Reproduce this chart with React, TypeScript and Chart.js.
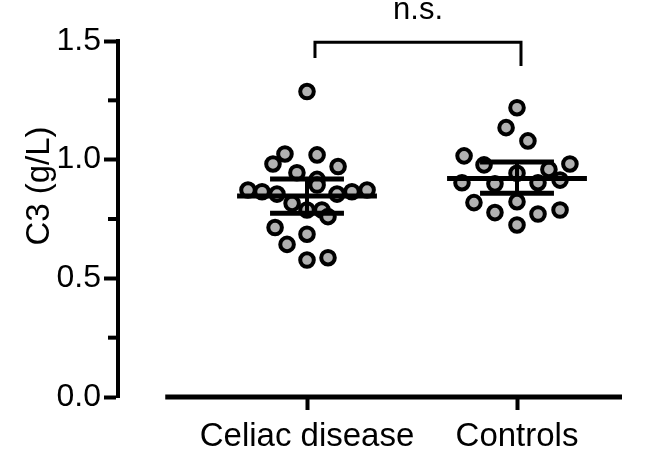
import React, { useEffect, useRef } from 'react';
import { Chart, registerables } from 'chart.js';

Chart.register(...registerables);

// ---------- data ----------
const categories = ['Celiac disease', 'Controls'];
const categoryPositions = [1, 2];

const celiacValues = [1.287, 1.024, 0.982, 1.02, 0.945, 0.971, 0.917, 0.893, 0.872, 0.865, 0.855, 0.855, 0.865, 0.872, 0.816, 0.788, 0.788, 0.76, 0.714, 0.686, 0.643, 0.577, 0.587];
const celiacJitter = [0, -0.105, -0.162, 0.048, -0.048, 0.148, 0.048, 0.048, -0.281, -0.214, -0.143, 0.143, 0.214, 0.286, -0.071, 0, 0.071, 0.1, -0.152, 0, -0.095, 0, 0.1];

const controlValues = [1.219, 1.135, 1.079, 1.016, 0.978, 0.982, 0.943, 0.959, 0.914, 0.903, 0.898, 0.903, 0.819, 0.823, 0.777, 0.771, 0.788, 0.725];
const controlJitter = [0, -0.052, 0.052, -0.252, -0.157, 0.252, 0, 0.152, 0.205, -0.262, -0.105, 0.1, -0.205, 0, -0.105, 0.1, 0.205, 0];

const groupMeans = [0.847, 0.921];
const groupLower = [0.774, 0.858];
const groupUpper = [0.919, 0.99];

const yMin = 0;
const yMax = 1.5;
const yStep = 0.25;
const yMajorStep = 0.5;
const yTitle = 'C3 (g/L)';

const sigLabel = 'n.s.';
const bracketX = [1.038, 2.019];
const bracketTop = 1.495;
const bracketLegEnds = [1.428, 1.395];
const sigLabelPos = { x: 1.529, y: 1.593 };

// ---------- styling ----------
const FONT = "Arial, 'Liberation Sans', Helvetica, sans-serif";
const MEAN_HALF = 0.333;
const CAP_HALF = 0.176;

const isMajor = (v: number) => Math.abs(v / yMajorStep - Math.round(v / yMajorStep)) < 1e-6;

function lineDs(points: { x: number; y: number }[], width: number) {
  return {
    type: 'scatter' as const,
    data: points,
    showLine: true,
    borderColor: '#000',
    backgroundColor: '#000',
    borderWidth: width,
    pointRadius: 0,
    pointHoverRadius: 0,
    borderCapStyle: 'butt' as const,
    clip: false as any,
    order: 0,
  };
}

function pointDs(values: number[], jitter: number[], center: number) {
  return {
    type: 'scatter' as const,
    data: values.map((v, i) => ({ x: center + jitter[i], y: v })),
    backgroundColor: '#b1b1b1',
    borderColor: '#000',
    borderWidth: 4,
    pointRadius: 6.8,
    pointHoverRadius: 6.8,
    clip: false as any,
    order: 1,
  };
}

const decorPlugin = {
  id: 'decor',
  afterDraw(chart: any) {
    const { ctx, chartArea } = chart;
    const xs = chart.scales.x;
    const ys = chart.scales.y;
    ctx.save();
    ctx.strokeStyle = '#000';
    ctx.fillStyle = '#000';
    // x axis line (offset from y axis)
    ctx.lineWidth = 5;
    ctx.beginPath();
    ctx.moveTo(xs.getPixelForValue(0.325), chartArea.bottom);
    ctx.lineTo(chartArea.right, chartArea.bottom);
    ctx.stroke();
    // minor y ticks
    ctx.lineWidth = 4;
    for (let v = yMin; v <= yMax + 1e-9; v += yStep) {
      if (isMajor(v)) continue;
      const py = ys.getPixelForValue(v);
      ctx.beginPath();
      ctx.moveTo(chartArea.left - 10, py);
      ctx.lineTo(chartArea.left, py);
      ctx.stroke();
    }
    // significance label
    ctx.font = `31px ${FONT}`;
    ctx.textAlign = 'center';
    ctx.textBaseline = 'alphabetic';
    ctx.fillText(sigLabel, xs.getPixelForValue(sigLabelPos.x), ys.getPixelForValue(sigLabelPos.y));
    // y title
    ctx.translate(40, 186);
    ctx.rotate(-Math.PI / 2);
    ctx.font = `33px ${FONT}`;
    ctx.textAlign = 'center';
    ctx.textBaseline = 'middle';
    ctx.fillText(yTitle, 0, 0);
    ctx.restore();
  },
};

export default function App() {
  const ref = useRef<HTMLCanvasElement | null>(null);

  useEffect(() => {
    if (!ref.current) return;
    const summaryDatasets: any[] = [];
    categoryPositions.forEach((c, i) => {
      summaryDatasets.push(lineDs([{ x: c - MEAN_HALF, y: groupMeans[i] }, { x: c + MEAN_HALF, y: groupMeans[i] }], 5));
      summaryDatasets.push(lineDs([{ x: c - CAP_HALF, y: groupUpper[i] }, { x: c + CAP_HALF, y: groupUpper[i] }], 5));
      summaryDatasets.push(lineDs([{ x: c - CAP_HALF, y: groupLower[i] }, { x: c + CAP_HALF, y: groupLower[i] }], 5));
      summaryDatasets.push(lineDs([{ x: c, y: groupUpper[i] }, { x: c, y: groupLower[i] }], 4));
    });
    const bracket = lineDs(
      [
        { x: bracketX[0], y: bracketLegEnds[0] },
        { x: bracketX[0], y: bracketTop },
        { x: bracketX[1], y: bracketTop },
        { x: bracketX[1], y: bracketLegEnds[1] },
      ],
      3
    );
    (bracket as any).borderJoinStyle = 'miter';

    const chart = new Chart(ref.current, {
      type: 'scatter',
      data: {
        datasets: [
          ...summaryDatasets,
          bracket,
          pointDs(celiacValues, celiacJitter, categoryPositions[0]),
          pointDs(controlValues, controlJitter, categoryPositions[1]),
        ],
      },
      options: {
        animation: false,
        responsive: false,
        events: [],
        layout: { padding: { left: 0, top: 41, right: 36, bottom: 0 } },
        plugins: { legend: { display: false }, tooltip: { enabled: false } },
        scales: {
          x: {
            type: 'linear',
            position: 'bottom',
            min: 0.1,
            max: 2.5,
            border: { display: false },
            grid: { display: true, drawOnChartArea: false, drawTicks: true, tickLength: 13, tickWidth: 4, color: '#000' },
            ticks: {
              autoSkip: false,
              maxRotation: 0,
              padding: 7,
              color: '#000',
              font: { size: 33, family: FONT },
              callback: (_v: any, i: number) => categories[i],
            },
            afterBuildTicks: (s: any) => {
              s.ticks = categoryPositions.map((v) => ({ value: v }));
            },
            afterFit: (s: any) => {
              s.height = 68;
            },
          },
          y: {
            type: 'linear',
            min: yMin,
            max: yMax,
            border: { display: true, color: '#000', width: 4 },
            grid: {
              display: true,
              drawOnChartArea: false,
              drawTicks: true,
              tickLength: 14,
              tickWidth: 4,
              tickColor: (ctx: any) => (ctx.tick && isMajor(ctx.tick.value) ? '#000' : 'rgba(0,0,0,0)'),
            },
            ticks: {
              stepSize: yStep,
              autoSkip: false,
              padding: 3,
              color: '#000',
              font: { size: 32, family: FONT },
              callback: (v: any) => (isMajor(Number(v)) ? Number(v).toFixed(1) : ''),
            },
            afterFit: (s: any) => {
              s.width = 118;
            },
          },
        },
      },
      plugins: [decorPlugin],
    });
    return () => chart.destroy();
  }, []);

  return (
    <div style={{ position: 'fixed', left: 0, top: 0, width: 658, height: 465, background: '#fff' }}>
      <canvas ref={ref} width={658} height={465} style={{ width: 658, height: 465, display: 'block' }} />
    </div>
  );
}
